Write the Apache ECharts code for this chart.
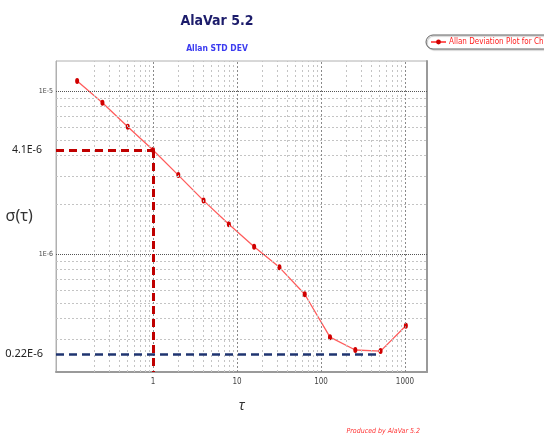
<!DOCTYPE html>
<html>
<head>
<meta charset="utf-8">
<script src="https://cdn.jsdelivr.net/npm/echarts@6/dist/echarts.min.js"></script>
<style>
  html, body { margin: 0; padding: 0; background: #fff; }
  #chart { width: 544px; height: 435px; }
</style>
</head>
<body>
<div id="chart"></div>
<script>
// tau (s) and Allan deviation
var tau = [0.125, 0.25, 0.5, 1, 2, 4, 8, 16, 32, 64, 128, 256, 512, 1024]
var sigma = [1.15e-5, 8.45e-6, 6.02e-6, 4.33e-6, 3.04e-6, 2.12e-6, 1.52e-6, 1.106e-6,
  8.26e-7, 5.65e-7, 3.08e-7, 2.57e-7, 2.53e-7, 3.62e-7]

// axis ranges and grid lines
var xRange = [0.07, 1828]
var yRange = [1.883e-7, 1.524e-5]
var xMajor = [1, 10, 100, 1000]
var xMinor = [0.2, 0.3, 0.4, 0.5, 0.6, 0.7, 0.8, 0.9,
  2, 3, 4, 5, 6, 7, 8, 9, 20, 30, 40, 50, 60, 70, 80, 90,
  200, 300, 400, 500, 600, 700, 800, 900]
var yMajor = [1e-6, 1e-5]
var yMinor = [3e-7, 4e-7, 5e-7, 6e-7, 7e-7, 8e-7, 9e-7,
  2e-6, 3e-6, 4e-6, 5e-6, 6e-6, 7e-6, 8e-6, 9e-6]

// annotations
var bias = { tau: 1, sigma: 4.33e-6, label: '4.1E-6' }
var floor = { tau: 512, sigma: 2.42e-7, label: '0.22E-6' }

var chart = echarts.init(document.getElementById('chart'))
var narrow = '"DejaVu Sans Condensed", "Liberation Sans Narrow", sans-serif'

function isDecade(v) {
  var l = Math.log10(v)
  return Math.abs(l - Math.round(l)) < 1e-6
}

function vLine(x, style) {
  return [{ coord: [x, yRange[0]], lineStyle: style }, { coord: [x, yRange[1]] }]
}
function hLine(y, style) {
  return [{ coord: [xRange[0], y], lineStyle: style }, { coord: [xRange[1], y] }]
}

var gridLines = []
xMinor.forEach(function (v) {
  gridLines.push(vLine(v, { color: '#c4c4c4', type: [2, 3], width: 1 }))
})
yMinor.forEach(function (v) {
  gridLines.push(hLine(v, { color: '#c4c4c4', type: [2, 2], width: 1 }))
})
xMajor.forEach(function (v) {
  gridLines.push(vLine(v, { color: '#8a8a8a', type: [2, 2], width: 1 }))
})
yMajor.forEach(function (v) {
  gridLines.push(hLine(v, { color: '#555', type: [1, 1], width: 1 }))
})

var option = {
  animation: false,
  backgroundColor: '#fff',
  title: [
    {
      text: 'AlaVar 5.2',
      left: 212,
      top: 9,
      textAlign: 'center',
      textStyle: { fontFamily: narrow, fontSize: 14, fontWeight: 'bold', color: '#1c1c6b' }
    },
    {
      text: 'Allan STD DEV',
      left: 212,
      top: 39,
      textAlign: 'center',
      textStyle: { fontFamily: narrow, fontSize: 8.5, fontWeight: 'bold', color: '#3b3bf0' }
    },
    {
      text: 'Produced by AlaVar 5.2',
      right: 119,
      top: 423,
      textStyle: { fontFamily: narrow, fontSize: 7, fontStyle: 'italic', fontWeight: 'normal', color: '#ff3333' }
    }
  ],
  legend: {
    left: 426,
    top: 35,
    padding: [3, 8, 3, 4],
    borderColor: '#666',
    borderWidth: 1,
    borderRadius: 8,
    shadowColor: 'rgba(0,0,0,0.3)',
    shadowOffsetX: 1,
    shadowOffsetY: 1,
    shadowBlur: 1,
    itemWidth: 15,
    itemHeight: 6,
    itemGap: 4,
    textStyle: { fontFamily: narrow, fontSize: 8, color: '#ff2020', padding: [0, 0, 0, -2] },
    data: ['Allan Deviation Plot for Chip S']
  },
  grid: {
    left: 56,
    top: 61,
    right: 117,
    bottom: 63,
    show: true,
    borderColor: '#b0b0b0',
    borderWidth: 1
  },
  xAxis: {
    type: 'log',
    min: xRange[0],
    max: xRange[1],
    name: 'τ',
    nameLocation: 'middle',
    nameGap: 27,
    nameTextStyle: { fontFamily: 'Noto Sans', fontSize: 14, fontStyle: 'italic', color: '#333' },
    axisLine: { show: true, lineStyle: { color: '#9a9a9a', width: 2 } },
    axisTick: { show: false },
    splitLine: { show: false },
    axisLabel: {
      margin: 6,
      fontFamily: narrow,
      fontSize: 8,
      color: '#444',
      showMinLabel: false,
      showMaxLabel: false,
      formatter: function (v) {
        return (v >= 1 && isDecade(v)) ? String(Math.round(v)) : ''
      }
    }
  },
  yAxis: [
    {
      type: 'log',
      min: yRange[0],
      max: yRange[1],
      name: 'σ(τ)',
      nameLocation: 'middle',
      nameGap: 20,
      nameRotate: 0,
      nameTextStyle: { fontFamily: 'Noto Sans', fontSize: 16, color: '#333' },
      axisLine: { show: true, lineStyle: { color: '#b0b0b0', width: 1 } },
      axisTick: { show: false },
      splitLine: { show: false },
      axisLabel: {
        margin: 3,
        fontFamily: narrow,
        fontSize: 7,
        color: '#444',
        showMinLabel: false,
        showMaxLabel: false,
        formatter: function (v) {
          return isDecade(v) ? '1E' + Math.round(Math.log10(v)) : ''
        }
      }
    },
    {
      type: 'log',
      min: yRange[0],
      max: yRange[1],
      position: 'right',
      axisLine: { show: true, lineStyle: { color: '#9a9a9a', width: 2 } },
      axisTick: { show: false },
      axisLabel: { show: false },
      splitLine: { show: false }
    }
  ],
  series: [
    {
      name: 'grid',
      type: 'line',
      z: 1,
      silent: true,
      symbol: 'none',
      lineStyle: { opacity: 0 },
      data: [[tau[0], sigma[0]]],
      markLine: {
        silent: true,
        symbol: ['none', 'none'],
        label: { show: false },
        data: gridLines
      }
    },
    {
      name: 'Allan Deviation Plot for Chip S',
      type: 'line',
      z: 3,
      data: tau.map(function (t, i) { return [t, sigma[i]] }),
      symbol: 'circle',
      symbolSize: [4, 6],
      lineStyle: { color: '#ff5c5c', width: 1.3 },
      itemStyle: { color: '#d00000' },
      markLine: {
        silent: true,
        symbol: ['none', 'none'],
        data: [
          [
            {
              coord: [xRange[0], bias.sigma],
              lineStyle: { color: '#c00000', type: [8, 5], width: 3 },
              label: {
                show: true,
                position: 'start',
                distance: 14,
                formatter: bias.label,
                fontFamily: 'Noto Sans',
                fontSize: 10.5,
                color: '#222'
              }
            },
            { coord: [bias.tau, bias.sigma] }
          ],
          [
            {
              coord: [bias.tau, bias.sigma],
              lineStyle: { color: '#c00000', type: [8, 5], width: 3 },
              label: { show: false }
            },
            { coord: [bias.tau, yRange[0]] }
          ],
          [
            {
              coord: [xRange[0], floor.sigma],
              lineStyle: { color: '#1f3470', type: [8, 5], width: 2.5 },
              label: {
                show: true,
                position: 'start',
                distance: 13,
                formatter: floor.label,
                fontFamily: 'Noto Sans',
                fontSize: 11,
                color: '#222'
              }
            },
            { coord: [floor.tau, floor.sigma] }
          ]
        ]
      }
    }
  ]
}

chart.setOption(option)
</script>
</body>
</html>
